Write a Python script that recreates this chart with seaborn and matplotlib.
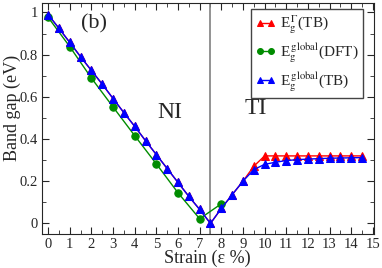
"""
Band gap vs strain: NI -> TI transition, panel (b)
"""
import numpy as np
import pandas as pd
import matplotlib
matplotlib.use("Agg")
import matplotlib.pyplot as plt
from matplotlib.ticker import MultipleLocator
import seaborn as sns

sns.set_style("ticks")
plt.rcParams["font.family"] = ["Liberation Serif", "DejaVu Serif"]
plt.rcParams["mathtext.fontset"] = "stix"

# strain points (eps %)
strain_tb = np.arange(0, 15, 0.5)
strain_dft = np.arange(0, 9, 1)

# global gap from tight binding
gap_global_tb = [0.99, 0.925, 0.858, 0.79, 0.725, 0.66, 0.592, 0.525, 0.46, 0.392,
                 0.326, 0.26, 0.194, 0.128, 0.066, 0.0, 0.071, 0.136, 0.2, 0.255,
                 0.28, 0.29, 0.298, 0.302, 0.305, 0.307, 0.309, 0.31, 0.311, 0.312]
# gap at Gamma from tight binding
gap_gamma_tb = [0.99, 0.925, 0.858, 0.79, 0.725, 0.66, 0.592, 0.525, 0.46, 0.392,
                0.326, 0.26, 0.194, 0.128, 0.066, 0.0, 0.071, 0.136, 0.2, 0.271,
                0.32, 0.32, 0.32, 0.32, 0.32, 0.32, 0.32, 0.32, 0.32, 0.32]
# global gap from DFT
gap_global_dft = [0.977, 0.838, 0.689, 0.552, 0.416, 0.282, 0.145, 0.022, 0.093]

fig = plt.figure(figsize=(3.82, 2.68), dpi=100)
ax = fig.add_axes([0.11, 0.127, 0.869, 0.862])

ax.axvline(7.5, color="#808080", lw=1.2, zorder=1)

ms = 5.3
sns.lineplot(x=strain_tb, y=gap_gamma_tb, ax=ax, color="#ff0000", lw=1,
             marker="^", markersize=ms, markeredgecolor="#ff0000",
             label=r"E$_\mathrm{g}^{\,\Gamma}$(TB)")
sns.lineplot(x=strain_dft, y=gap_global_dft, ax=ax, color="#008c00", lw=1,
             marker="o", markersize=ms, markeredgecolor="#008c00",
             label=r"E$_\mathrm{g}^{\,\mathrm{global}}$(DFT)")
sns.lineplot(x=strain_tb, y=gap_global_tb, ax=ax, color="#0000ff", lw=1,
             marker="^", markersize=ms, markeredgecolor="#0000ff",
             label=r"E$_\mathrm{g}^{\,\mathrm{global}}$(TB)")

ax.set_xlim(-0.28, 15.05)
ax.set_ylim(-0.05, 1.045)
ax.xaxis.set_major_locator(MultipleLocator(1))
ax.xaxis.set_minor_locator(MultipleLocator(0.5))
ax.yaxis.set_minor_locator(MultipleLocator(0.1))
ax.set_yticks([0, 0.2, 0.4, 0.6, 0.8, 1.0])
ax.set_yticklabels(["0", "0.2", "0.4", "0.6", "0.8", "1"])
ax.tick_params(which="both", direction="in", top=True, right=True, labelsize=10.5,
               pad=3)
ax.tick_params(which="major", length=5)
ax.tick_params(which="minor", length=3)

ax.set_xlabel("Strain (ε %)", fontsize=13)
ax.xaxis.set_label_coords(0.498, -0.07)
ax.set_ylabel("Band gap (eV)", fontsize=13)
ax.yaxis.set_label_coords(-0.063, 0.545)

ax.text(2.12, 0.945, "(b)", fontsize=16, ha="center", va="center")
ax.text(5.62, 0.525, "NI", fontsize=17, ha="center", va="center")
ax.text(9.58, 0.544, "TI", fontsize=17, ha="center", va="center")

ax.legend(loc="upper right", bbox_to_anchor=(0.967, 0.974), borderaxespad=0,
          fontsize=11, frameon=True, fancybox=False, numpoints=2, markerscale=0.8,
          edgecolor="#444444", framealpha=1, handlelength=1.3, borderpad=0.3,
          labelspacing=0.35, handletextpad=0.3)

plt.savefig("out.png", dpi=100)
plt.close()
